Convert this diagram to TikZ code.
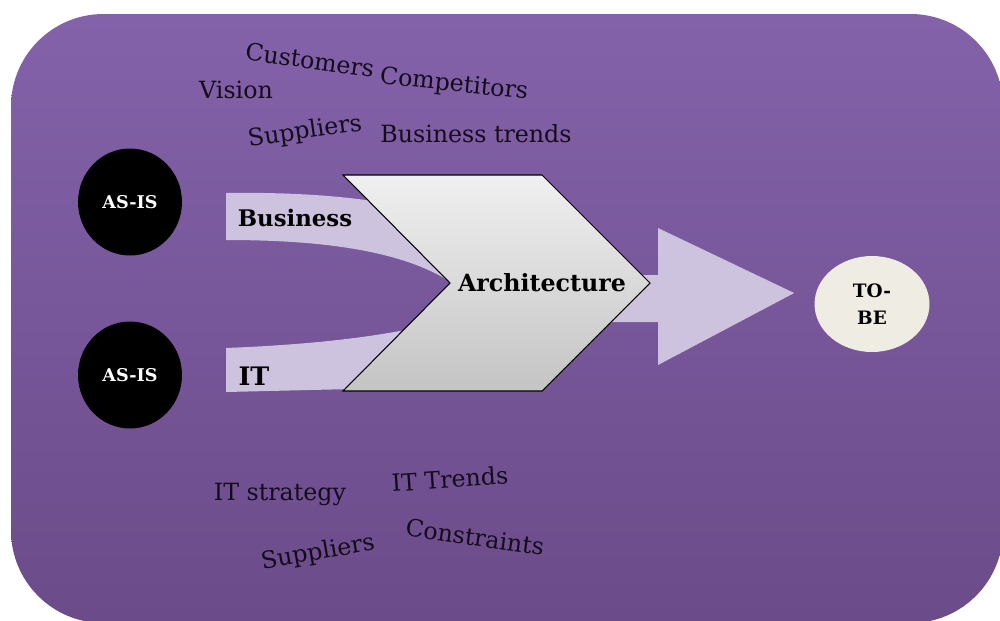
\documentclass[tikz,border=0pt]{standalone}
\usepackage{fontspec}
\setmainfont{DejaVu Serif}
\usetikzlibrary{shapes.geometric,calc}

\definecolor{bgtop}{HTML}{8362AA}
\definecolor{bgbot}{HTML}{6B4B89}
\definecolor{band}{HTML}{CEC3DE}
\definecolor{chevtop}{HTML}{F0F0F0}
\definecolor{chevbot}{HTML}{C4C4C4}
\definecolor{tobefill}{HTML}{EFECE4}
\definecolor{ink}{HTML}{140A1A}

\tikzset{
	asis/.style={ellipse, fill=black, text=white, font=\bfseries\fontsize{10}{12}\selectfont,
		minimum width=2.08cm, minimum height=2.14cm, inner sep=0pt},
	tobe/.style={ellipse, fill=tobefill, font=\bfseries\fontsize{10.5}{15.5}\selectfont,
		minimum width=2.3cm, minimum height=1.92cm, inner sep=0pt, align=center},
	word/.style={text=ink, font=\fontsize{13.5}{16}\selectfont, inner sep=0pt},
	bandlabel/.style={text=black, font=\bfseries\fontsize{13}{15}\selectfont, inner sep=0pt},
}

\begin{document}
\begin{tikzpicture}[x=0.02cm, y=-0.02cm]
	\useasboundingbox (0,0) rectangle (1000,620);
	% purple panel
	\shade[top color=bgtop, bottom color=bgbot, rounded corners=1.85cm] (11,623) rectangle (1003,14);

	\node[asis] (asisbiz) at (130,202) {AS-IS};
	\node[asis] (asisit) at (130,375) {AS-IS};
	\node[tobe] (tobe) at (872,304) {TO-\\BE};

	% bands and big arrow, behind the chevron
	\fill[band] (226,193) .. controls (290,192) and (345,196) .. (385,203) -- (455,285)
		.. controls (405,250) and (320,240) .. (226,240) -- cycle;
	\fill[band] (226,348) .. controls (300,345) and (365,339) .. (425,326) -- (352,389) -- (226,392) -- cycle;
	\fill[band] (600,275) -- (658,275) -- (658,228) -- ($(tobe.west)+(-20,-11)$) -- (658,365) -- (658,322) -- (600,322) -- cycle;

	\node[bandlabel, font=\bfseries\fontsize{13.5}{15}\selectfont] (arch) at (542,283) {};
	\shadedraw[top color=chevtop, bottom color=chevbot, draw=black, line width=0.6pt]
		($(arch)+(-199,-108)$) -- ($(arch)+(0,-108)$) -- ($(arch)+(108,0)$) -- ($(arch)+(0,108)$)
		-- ($(arch)+(-199,108)$) -- ($(arch)+(-92,0)$) -- cycle;
	\node[bandlabel, font=\bfseries\fontsize{13.5}{15}\selectfont] at (arch) {Architecture};

	\node[bandlabel] (biz) at (295,218) {Business};
	\node[bandlabel, font=\bfseries\fontsize{14.5}{16}\selectfont] (it) at (254,376) {IT};

	% business drivers
	\node[word, rotate=-8] (cust) at (310,60) {Customers};
	\node[word] (vision) at (236,90) {Vision};
	\node[word, rotate=-6] (comp) at (454,85) {Competitors};
	\node[word, rotate=8] (supbiz) at (305,132) {Suppliers};
	\node[word] (trends) at (476,134) {Business trends};
	% it drivers
	\node[word] (itstrat) at (280,494) {IT strategy};
	\node[word, rotate=4] (ittrends) at (450,479) {IT Trends};
	\node[word, rotate=10] (supit) at (318,553) {Suppliers};
	\node[word, rotate=-8] (constr) at (475,537) {Constraints};
\end{tikzpicture}
\end{document}
